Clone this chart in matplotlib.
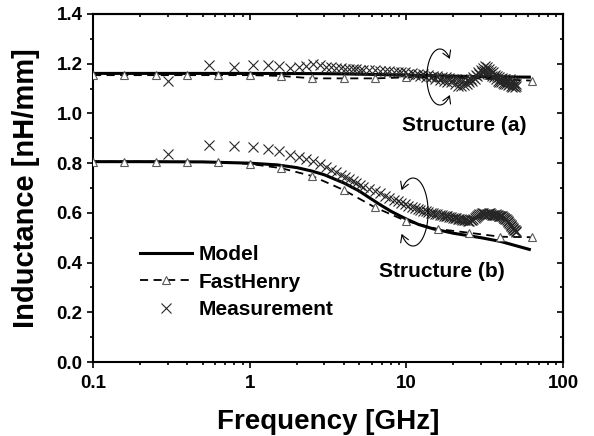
import numpy as np
import matplotlib
matplotlib.use("Agg")
import matplotlib.pyplot as plt
from matplotlib.patches import FancyArrowPatch
from matplotlib.path import Path
from matplotlib.ticker import MultipleLocator, NullFormatter, FormatStrFormatter

plt.rcParams['font.family'] = ['Liberation Sans', 'DejaVu Sans']
plt.rcParams['font.weight'] = 'bold'

# model curves
f_model = [0.1, 0.2, 0.5, 1.0, 1.5, 2.0, 2.5, 3.0, 4.0, 5.0, 6.0, 7.0, 8.0,
           10, 12, 15, 20, 25, 30, 40, 50, 61]
model_b = [0.806, 0.806, 0.805, 0.800, 0.793, 0.782, 0.768, 0.753, 0.720,
           0.688, 0.655, 0.628, 0.606, 0.575, 0.553, 0.535, 0.518, 0.508,
           0.500, 0.485, 0.468, 0.453]
f_model_a = [0.1, 1, 3, 5, 10, 20, 30, 40, 61]
model_a = [1.161, 1.161, 1.160, 1.158, 1.154, 1.150, 1.148, 1.147, 1.146]

# FastHenry points
f_fh = [0.1, 0.158, 0.251, 0.398, 0.631, 1.0, 1.585, 2.51, 3.98, 6.31,
        10.0, 15.85, 25.1, 39.8, 63.1]
fh_a = [1.154, 1.154, 1.154, 1.154, 1.154, 1.154, 1.151, 1.141, 1.141,
        1.141, 1.145, 1.145, 1.142, 1.137, 1.132]
fh_b = [0.806, 0.806, 0.806, 0.805, 0.804, 0.797, 0.780, 0.748, 0.692,
        0.622, 0.567, 0.535, 0.520, 0.504, 0.502]

# measurement sweep
f_meas = np.concatenate([np.arange(0.3, 5.1, 0.25), np.arange(5.3, 50.6, 0.5)])
meas_a = [1.132, 1.195, 1.185, 1.195, 1.193, 1.190, 1.181, 1.188, 1.190, 1.198,
          1.193, 1.188, 1.186, 1.184, 1.182, 1.180, 1.179, 1.178, 1.177, 1.176,
          1.176, 1.175, 1.174, 1.172, 1.171, 1.170, 1.168, 1.167, 1.166, 1.165,
          1.160, 1.163, 1.155, 1.160, 1.150, 1.158, 1.147, 1.155, 1.145, 1.152,
          1.140, 1.150, 1.135, 1.148, 1.132, 1.145, 1.128, 1.143, 1.125, 1.140,
          1.118, 1.138, 1.112, 1.135, 1.110, 1.132, 1.115, 1.128, 1.120, 1.135,
          1.125, 1.140, 1.130, 1.148, 1.140, 1.155, 1.150, 1.165, 1.160, 1.175,
          1.168, 1.182, 1.172, 1.190, 1.175, 1.185, 1.168, 1.180, 1.160, 1.172,
          1.152, 1.165, 1.145, 1.155, 1.138, 1.150, 1.132, 1.145, 1.128, 1.140,
          1.125, 1.142, 1.122, 1.138, 1.120, 1.140, 1.118, 1.135, 1.115, 1.132,
          1.118, 1.138, 1.112, 1.130, 1.108, 1.125, 1.110, 1.122, 1.105, 1.118,
          1.110]
meas_b = [0.838, 0.872, 0.869, 0.864, 0.855, 0.849, 0.833, 0.825, 0.818, 0.810,
          0.798, 0.785, 0.774, 0.763, 0.753, 0.744, 0.735, 0.727, 0.719, 0.711,
          0.706, 0.697, 0.688, 0.679, 0.668, 0.660, 0.653, 0.646, 0.640, 0.634,
          0.629, 0.624, 0.620, 0.616, 0.612, 0.609, 0.606, 0.604, 0.601, 0.598,
          0.596, 0.594, 0.592, 0.590, 0.589, 0.587, 0.586, 0.584, 0.583, 0.581,
          0.580, 0.578, 0.577, 0.575, 0.574, 0.573, 0.572, 0.571, 0.570, 0.569,
          0.569, 0.570, 0.571, 0.574, 0.578, 0.582, 0.587, 0.591, 0.594, 0.597,
          0.598, 0.599, 0.597, 0.594, 0.592, 0.594, 0.597, 0.599, 0.598, 0.596,
          0.593, 0.591, 0.590, 0.592, 0.594, 0.593, 0.590, 0.588, 0.587, 0.588,
          0.589, 0.587, 0.584, 0.581, 0.579, 0.577, 0.574, 0.570, 0.566, 0.562,
          0.558, 0.554, 0.550, 0.546, 0.542, 0.539, 0.536, 0.533, 0.530, 0.528,
          0.525]

fig = plt.figure(figsize=(5.94, 4.36), dpi=100)
ax = fig.add_axes([0.1566, 0.1697, 0.7912, 0.7982])

ax.plot(f_model, model_b, color='black', lw=2.2, zorder=3, label='Model')
ax.plot(f_model_a, model_a, color='black', lw=2.2, zorder=3)
ax.plot(f_fh, fh_b, color='black', lw=1.3, dashes=(4.5, 3), marker='^', ms=6,
        mfc='white', mec='0.35', mew=0.8, zorder=4, label='FastHenry')
ax.plot(f_fh, fh_a, color='black', lw=1.3, dashes=(4.5, 3), marker='^', ms=6,
        mfc='white', mec='0.35', mew=0.8, zorder=4)
ax.plot(f_meas, meas_b, ls='none', marker='x', ms=7.5, mec='0.15', mew=0.8,
        zorder=5, label='Measurement')
ax.plot(f_meas, meas_a, ls='none', marker='x', ms=7.5, mec='0.15', mew=0.8,
        zorder=5)

ax.set_xscale('log')
ax.set_xlim(0.1, 100)
ax.set_ylim(0, 1.4)
ax.yaxis.set_major_locator(MultipleLocator(0.2))
ax.yaxis.set_minor_locator(MultipleLocator(0.1))
ax.yaxis.set_major_formatter(FormatStrFormatter('%.1f'))
ax.set_xticks([0.1, 1, 10, 100])
ax.set_xticklabels(['0.1', '1', '10', '100'])
ax.xaxis.set_minor_formatter(NullFormatter())
ax.tick_params(which='both', direction='out', width=1.2, labelsize=13.5)
ax.tick_params(which='major', length=4.5)
ax.tick_params(axis='x', which='major', pad=4.5)
ax.tick_params(axis='y', which='major', pad=3)
ax.tick_params(which='minor', length=2.5)
for s in ax.spines.values():
    s.set_linewidth(1.5)

# mirrored ticks pointing inward on top and right
top = ax.secondary_xaxis('top')
top.tick_params(which='both', direction='in', width=1.2, labeltop=False)
top.tick_params(which='major', length=4.5)
top.tick_params(which='minor', length=2.5)
top.spines['top'].set_linewidth(1.5)
right = ax.secondary_yaxis('right')
right.yaxis.set_major_locator(MultipleLocator(0.2))
right.yaxis.set_minor_locator(MultipleLocator(0.1))
right.tick_params(which='both', direction='in', width=1.2, labelright=False)
right.tick_params(which='major', length=4.5)
right.tick_params(which='minor', length=2.5)
right.spines['right'].set_linewidth(1.5)

ax.set_xlabel('Frequency [GHz]', fontsize=20, fontweight='bold')
ax.set_ylabel('Inductance [nH/mm]', fontsize=21, fontweight='bold')
ax.xaxis.set_label_coords(0.5, -0.135)
ax.yaxis.set_label_coords(-0.112, 0.5)

ax.legend(loc='upper left', bbox_to_anchor=(0.1, 0.335), frameon=False,
          fontsize=15, handlelength=2.5, handletextpad=0.3, labelspacing=0.4,
          borderpad=0, borderaxespad=0)

ax.text(23.3, 0.953, 'Structure (a)', ha='center', va='center', fontsize=15)
ax.text(16.9, 0.366, 'Structure (b)', ha='center', va='center', fontsize=15)


def rotation_arrow(cx, cy, rx, ry, a0, a1):
    t = np.radians(np.linspace(a0, a1, 60))
    verts = np.column_stack([cx + rx * np.cos(t), cy + ry * np.sin(t)])
    p = FancyArrowPatch(path=Path(verts), arrowstyle='<->,head_length=0.5,head_width=0.3',
                        mutation_scale=10, lw=0.8, color='black',
                        transform=ax.transAxes, zorder=6)
    ax.add_patch(p)


rotation_arrow(0.738, 0.819, 0.0277, 0.0805, 40, 320)
rotation_arrow(0.681, 0.431, 0.032, 0.0977, 140, -140)

fig.savefig('out.png', dpi=100)
